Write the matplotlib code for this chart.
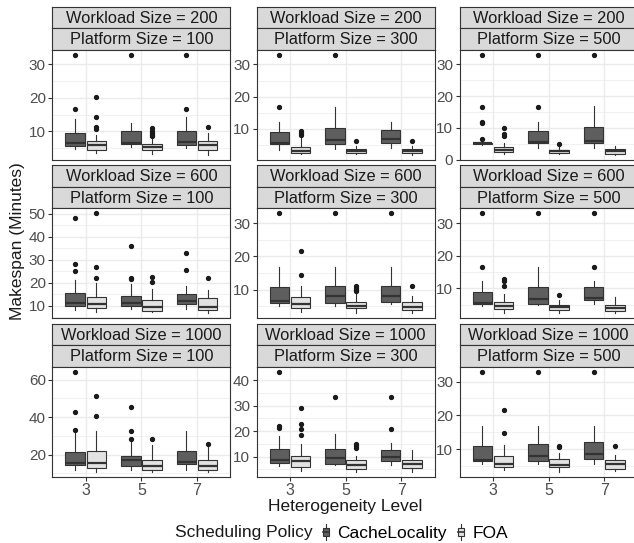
import numpy as np
import matplotlib
matplotlib.use("Agg")
import matplotlib.pyplot as plt
from matplotlib.patches import Rectangle, Patch
from matplotlib.lines import Line2D
from matplotlib.legend_handler import HandlerBase

plt.rcParams['font.family'] = ['Liberation Sans', 'DejaVu Sans']

# rows per panel: [whislo, q1, median, q3, whishi]
# order: CL 3, FOA 3, CL 5, FOA 5, CL 7, FOA 7
levels = ["3", "5", "7"]
policies = ["CacheLocality", "FOA"]
workloads = [200, 600, 1000]
platforms = [100, 300, 500]

box_200_100 = [[4.8, 5.6, 6.4, 9.5, 13.6], [3.5, 4.4, 5.8, 7.1, 9.0],
               [5.4, 6.1, 6.6, 10.0, 12.4], [3.2, 4.4, 5.4, 6.1, 8.0],
               [4.9, 5.9, 6.9, 10.0, 14.2], [3.0, 4.4, 5.8, 7.1, 9.5]]
out_200_100 = [[32.9, 16.8], [20.2, 14.4, 11.2, 10.8], [32.9],
               [10.9, 10.2, 9.6, 9.0, 8.6], [32.9, 16.8], [11.2]]

box_200_300 = [[3.5, 5.3, 5.6, 9.0, 12.1], [2.2, 2.5, 3.0, 4.5, 7.6],
               [3.9, 5.3, 6.5, 10.3, 16.9], [2.2, 2.4, 3.0, 3.7, 4.7],
               [4.0, 5.5, 7.0, 9.8, 12.1], [2.0, 2.4, 3.2, 3.9, 4.7]]
out_200_300 = [[33.0, 16.9], [9.5, 8.8, 8.1], [33.0], [6.3], [], [6.1]]

box_200_500 = [[4.7, 4.9, 5.1, 5.4, 6.0], [1.8, 2.3, 3.2, 3.9, 5.2],
               [3.6, 5.2, 5.6, 9.0, 12.0], [1.8, 2.0, 2.6, 3.2, 3.9],
               [3.7, 5.2, 5.9, 10.2, 16.8], [1.6, 1.8, 2.6, 3.4, 4.4]]
out_200_500 = [[33.0, 16.6, 12.0, 11.5, 6.5], [10.0, 8.0, 7.5], [33.0, 16.6],
               [4.9], [33.0], []]

box_600_100 = [[8.1, 10.0, 11.3, 15.7, 21.3], [7.1, 9.1, 10.7, 13.9, 19.9],
               [8.6, 10.0, 11.3, 14.1, 19.6], [7.1, 7.9, 9.6, 12.4, 17.4],
               [8.4, 10.6, 12.1, 14.9, 18.4], [6.7, 8.1, 9.6, 13.4, 16.7]]
out_600_100 = [[48.1, 28.4, 25.3], [50.3, 27.0, 22.0], [36.0, 22.1, 21.7],
               [22.7, 20.3], [32.9, 25.7], [22.1]]

box_600_300 = [[5.1, 6.1, 6.6, 10.8, 16.9], [3.3, 4.4, 5.6, 7.8, 11.0],
               [5.1, 5.9, 8.0, 11.2, 16.9], [2.9, 4.4, 5.1, 6.4, 8.8],
               [5.6, 6.3, 8.0, 11.2, 16.9], [2.9, 3.9, 4.9, 6.4, 8.2]]
out_600_300 = [[33.0], [21.6, 14.4], [33.0], [11.0, 10.5, 10.0, 9.6],
               [33.0], [11.0]]

box_600_500 = [[4.5, 5.2, 5.5, 9.0, 12.3], [2.3, 3.5, 4.5, 5.8, 8.3],
               [4.8, 5.3, 6.7, 10.3, 16.7], [2.5, 3.3, 4.3, 5.0, 6.5],
               [5.3, 6.3, 7.0, 10.3, 12.3], [2.3, 3.0, 4.0, 5.0, 7.3]]
out_600_500 = [[33.1, 16.7], [13.0, 12.3, 10.8], [33.1], [8.0],
               [33.1, 16.7], []]

box_1000_100 = [[11.7, 14.3, 15.5, 21.6, 31.7], [10.8, 13.0, 15.5, 21.7, 32.5],
                [12.0, 13.9, 16.9, 19.5, 27.3], [10.8, 12.0, 13.9, 17.2, 25.2],
                [12.0, 14.8, 16.3, 22.1, 32.9], [10.8, 12.0, 13.9, 17.4, 24.2]]
out_1000_100 = [[64.2, 43.0, 33.4], [51.3, 40.9], [45.6, 32.9, 28.5],
                [28.2], [], [25.9]]

box_1000_300 = [[6.2, 7.5, 8.5, 12.9, 18.0], [4.3, 6.0, 8.1, 10.3, 14.8],
                [6.6, 7.2, 9.4, 12.8, 18.9], [4.0, 5.3, 6.8, 8.5, 10.3],
                [6.8, 8.1, 10.0, 12.5, 15.3], [4.0, 5.6, 7.2, 8.7, 12.5]]
out_1000_300 = [[43.2, 22.0, 21.4], [29.0, 22.9, 21.0, 18.5], [33.2],
                [14.8, 14.0, 13.5], [33.2, 20.8], []]

box_1000_500 = [[5.6, 6.4, 6.8, 11.0, 16.8], [3.7, 4.6, 5.6, 8.0, 11.2],
                [5.4, 6.4, 7.8, 11.5, 16.8], [3.2, 4.6, 5.3, 6.9, 8.8],
                [5.4, 6.9, 8.5, 12.0, 16.8], [3.4, 4.1, 5.6, 6.6, 8.2]]
out_1000_500 = [[32.9], [21.7, 14.7], [32.9], [11.0, 10.5], [32.9], [11.0]]

yticks_list = [[10, 20, 30], [10, 20, 30], [0, 10, 20, 30],
               [10, 20, 30, 40, 50], [10, 20, 30], [10, 20, 30],
               [20, 40, 60], [10, 20, 30, 40], [10, 20, 30]]

panels = [
    (box_200_100, out_200_100), (box_200_300, out_200_300), (box_200_500, out_200_500),
    (box_600_100, out_600_100), (box_600_300, out_600_300), (box_600_500, out_600_500),
    (box_1000_100, out_1000_100), (box_1000_300, out_1000_300), (box_1000_500, out_1000_500),
]

fills = ["#5e5e5e", "#e2e2e2"]
EDGE = "#333333"

W, H = 634, 543
fig = plt.figure(figsize=(W / 100, H / 100), dpi=100)


def px(x0, y0, x1, y1):
    return [x0 / W, 1 - y1 / H, (x1 - x0) / W, (y1 - y0) / H]


# the reference is cut off at the right edge, so the last column runs past it
col_x = [(52.4, 230.4), (256.6, 434.6), (459.6, 637.6)]
row_y = [6.7, 165.3, 323.9]
strip_h = 21.5
panel_h = 110

for i, (boxes, outs) in enumerate(panels):
    r, c = divmod(i, 3)
    x0, x1 = col_x[c]
    top = row_y[r]
    # strips
    labels = ["Workload Size = %d" % workloads[r], "Platform Size = %d" % platforms[c]]
    for k, lab in enumerate(labels):
        sa = fig.add_axes(px(x0, top + k * strip_h, x1, top + (k + 1) * strip_h))
        sa.set_facecolor("#d9d9d9")
        sa.set_xticks([])
        sa.set_yticks([])
        for s in sa.spines.values():
            s.set_color(EDGE)
            s.set_linewidth(0.8)
        sa.text(0.5, 0.47, lab, ha="center", va="center", fontsize=11.8, color="#1a1a1a",
                transform=sa.transAxes)

    ax = fig.add_axes(px(x0, top + 2 * strip_h, x1, top + 2 * strip_h + panel_h))
    stats = []
    pos = []
    for j, (b, o) in enumerate(zip(boxes, outs)):
        stats.append(dict(whislo=b[0], q1=b[1], med=b[2], q3=b[3], whishi=b[4], fliers=o))
        lev, pol = divmod(j, 2)
        pos.append(lev + 1 + (-0.19 if pol == 0 else 0.19))
    for pol in range(2):
        sel = [stats[j] for j in range(pol, 6, 2)]
        ps = [pos[j] for j in range(pol, 6, 2)]
        ax.bxp(sel, positions=ps, widths=0.35, patch_artist=True, showcaps=False,
               boxprops=dict(facecolor=fills[pol], edgecolor=EDGE, linewidth=0.8),
               whiskerprops=dict(color=EDGE, linewidth=0.8),
               medianprops=dict(color=EDGE, linewidth=1.6),
               flierprops=dict(marker="o", markersize=2.8, markerfacecolor="#1a1a1a",
                               markeredgecolor="#1a1a1a"),
               manage_ticks=False, zorder=3)

    allv = [v for b in boxes for v in b] + [v for o in outs for v in o]
    lo, hi = min(allv), max(allv)
    pad = 0.05 * (hi - lo)
    ax.set_ylim(lo - pad, hi + pad)
    ax.set_xlim(0.4, 3.6)

    yt = yticks_list[i]
    step = yt[1] - yt[0]
    minors = [t for t in np.arange(yt[0] - step / 2, yt[-1] + step, step)
              if lo - pad < t < hi + pad]
    ax.set_yticks(yt)
    ax.set_yticks(minors, minor=True)
    ax.set_xticks([1, 2, 3])
    ax.set_axisbelow(True)
    ax.grid(True, which="major", color="#ebebeb", linewidth=1.0)
    ax.grid(True, which="minor", axis="y", color="#ebebeb", linewidth=0.5)
    ax.tick_params(axis="y", which="minor", length=0)
    ax.tick_params(axis="both", which="major", length=2.75, width=0.8, color=EDGE,
                   labelsize=11, labelcolor="#4d4d4d", pad=2)
    if r < 2:
        ax.tick_params(axis="x", bottom=False, labelbottom=False)
    else:
        ax.set_xticklabels(levels)
        ax.tick_params(axis="x", labelsize=11.5)
    for s in ax.spines.values():
        s.set_color(EDGE)
        s.set_linewidth(0.8)

fig.text(18 / W, 1 - 241 / H, "Makespan (Minutes)", rotation=90, ha="center",
         va="center", fontsize=12.5, color="#1a1a1a")
fig.text(345 / W, 1 - 506 / H, "Heterogeneity Level", ha="center", va="center",
         fontsize=12.5, color="#1a1a1a")


class BoxKey(HandlerBase):
    def create_artists(self, legend, orig_handle, xdescent, ydescent, width, height,
                       fontsize, trans):
        cx = width / 2 - xdescent
        y0 = -ydescent - 0.2 * height
        hh = height * 1.3
        bw = width * 0.5
        wl = Line2D([cx, cx], [y0, y0 + 0.25 * hh], color=EDGE, lw=0.8, transform=trans)
        wh = Line2D([cx, cx], [y0 + 0.75 * hh, y0 + hh], color=EDGE, lw=0.8, transform=trans)
        box = Rectangle((cx - bw / 2, y0 + 0.25 * hh), bw, 0.5 * hh,
                        facecolor=orig_handle.get_facecolor(), edgecolor=EDGE, lw=0.8,
                        transform=trans)
        med = Line2D([cx - bw / 2, cx + bw / 2], [y0 + 0.5 * hh] * 2, color=EDGE, lw=1.2,
                     transform=trans)
        return [wl, wh, box, med]


ttl = fig.text(175 / W, 1 - 533 / H, "Scheduling Policy", ha="left", va="center",
               fontsize=12.5, color="#1a1a1a")
rend = fig.canvas.get_renderer()
bb = ttl.get_window_extent(rend)
handles = [Patch(facecolor=f) for f in fills]
fig.legend(handles, policies, handler_map={Patch: BoxKey()}, ncol=2, frameon=False,
           loc="center left", bbox_to_anchor=((bb.x1 + 7) / W, 1 - 533 / H),
           fontsize=12.5, handlelength=0.7, handleheight=0.7, handletextpad=0.3,
           columnspacing=0.5, borderpad=0, borderaxespad=0)

fig.savefig("out.png", dpi=100)
